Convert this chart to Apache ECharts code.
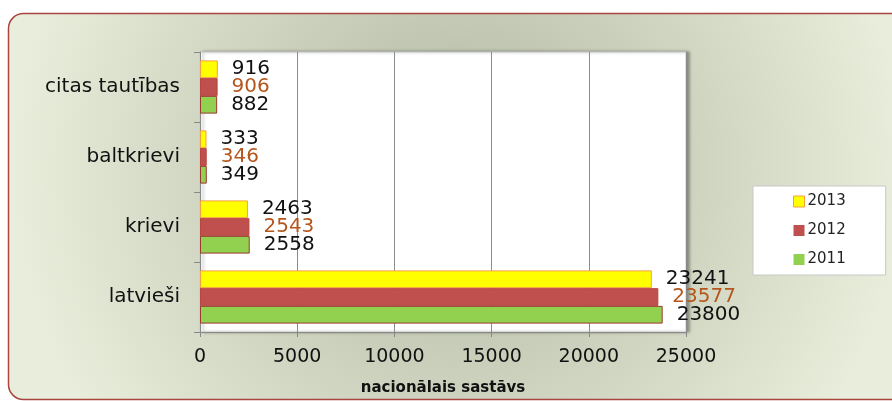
<!DOCTYPE html>
<html>
<head>
<meta charset="utf-8">
<script src="https://cdn.jsdelivr.net/npm/echarts@6/dist/echarts.min.js"></script>
<style>
  html, body { margin: 0; padding: 0; background: #fff; }
  #chart { width: 892px; height: 401px; }
</style>
</head>
<body>
<div id="chart"></div>
<script>
const categories = ["latvieši", "krievi", "baltkrievi", "citas tautības"];
const years = ["2013", "2012", "2011"];
const values2011 = [23800, 2558, 349, 882];
const values2012 = [23577, 2543, 346, 906];
const values2013 = [23241, 2463, 333, 916];
const xTicks = { min: 0, max: 25000, interval: 5000 };

const font = "DejaVu Sans";
const barStyles = {
  "2011": { color: "#92d050", borderColor: "#9a3a2e", label: "#111" },
  "2012": { color: "#c0504d", borderColor: "#b8453f", label: "#b5561c" },
  "2013": { color: "#ffff00", borderColor: "#f5a040", label: "#111" },
};
const seriesValues = { "2011": values2011, "2012": values2012, "2013": values2013 };

const chart = echarts.init(document.getElementById("chart"));

const option = {
  animation: false,
  graphic: [
    {
      type: "rect",
      z: -10,
      shape: { x: 8.5, y: 13.5, width: 900, height: 386, r: 15 },
      style: {
        fill: new echarts.graphic.RadialGradient(0.5, 0.4, 1.15, [
          { offset: 0, color: "#b0b7a1" },
          { offset: 1, color: "#e9eddb" },
        ]),
        stroke: "#a8463f",
        lineWidth: 1.5,
      },
    },
  ],
  grid: {
    left: 200,
    right: 206,
    top: 52,
    bottom: 69,
    outerBoundsMode: "none",
    show: true,
    backgroundColor: "#ffffff",
    borderColor: "#c8c8c8",
    borderWidth: 1,
    shadowColor: "rgba(0,0,0,0.35)",
    shadowBlur: 3,
    shadowOffsetX: 3,
    shadowOffsetY: 0,
  },
  legend: {
    data: years.map((y) => ({
      name: y,
      itemStyle: y === "2013" ? { borderColor: "#f5a040", borderWidth: 1 } : { borderWidth: 0 },
    })),
    orient: "vertical",
    left: 753,
    top: 186,
    backgroundColor: "#ffffff",
    borderColor: "#c8c8c8",
    borderWidth: 1,
    padding: [8, 40, 8, 40],
    itemGap: 14,
    itemWidth: 11,
    itemHeight: 11,
    icon: "rect",
    textStyle: { fontFamily: font, fontSize: 15, color: "#222", padding: [0, 0, 0, -2] },
  },
  xAxis: {
    type: "value",
    min: xTicks.min,
    max: xTicks.max,
    interval: xTicks.interval,
    name: "nacionālais sastāvs",
    nameLocation: "middle",
    nameGap: 49,
    nameTextStyle: { fontFamily: font, fontSize: 15, fontWeight: "bold", color: "#111" },
    axisLine: { show: true, lineStyle: { color: "#888" } },
    axisTick: { show: true, length: 5, lineStyle: { color: "#888" } },
    axisLabel: {
      fontFamily: font,
      fontSize: 19,
      color: "#111",
      margin: 16,
      formatter: (v) => String(v),
    },
    splitLine: { show: true, lineStyle: { color: "#8c8c8c", width: 1 } },
  },
  yAxis: {
    type: "category",
    data: categories,
    axisLine: { show: true, lineStyle: { color: "#888" } },
    axisTick: { show: true, length: 6, lineStyle: { color: "#888" } },
    axisLabel: { fontFamily: font, fontSize: 20, color: "#111", margin: 20 },
    splitLine: { show: false },
  },
  series: years.map((y) => ({
    name: y,
    type: "bar",
    data: seriesValues[y],
    barGap: "0%",
    barCategoryGap: "24%",
    itemStyle: {
      color: barStyles[y].color,
      borderColor: barStyles[y].borderColor,
      borderWidth: 1,
    },
    label: {
      show: true,
      position: "right",
      distance: 14,
      fontFamily: font,
      fontSize: 20,
      color: barStyles[y].label,
    },
  })),
};

chart.setOption(option);
</script>
</body>
</html>
